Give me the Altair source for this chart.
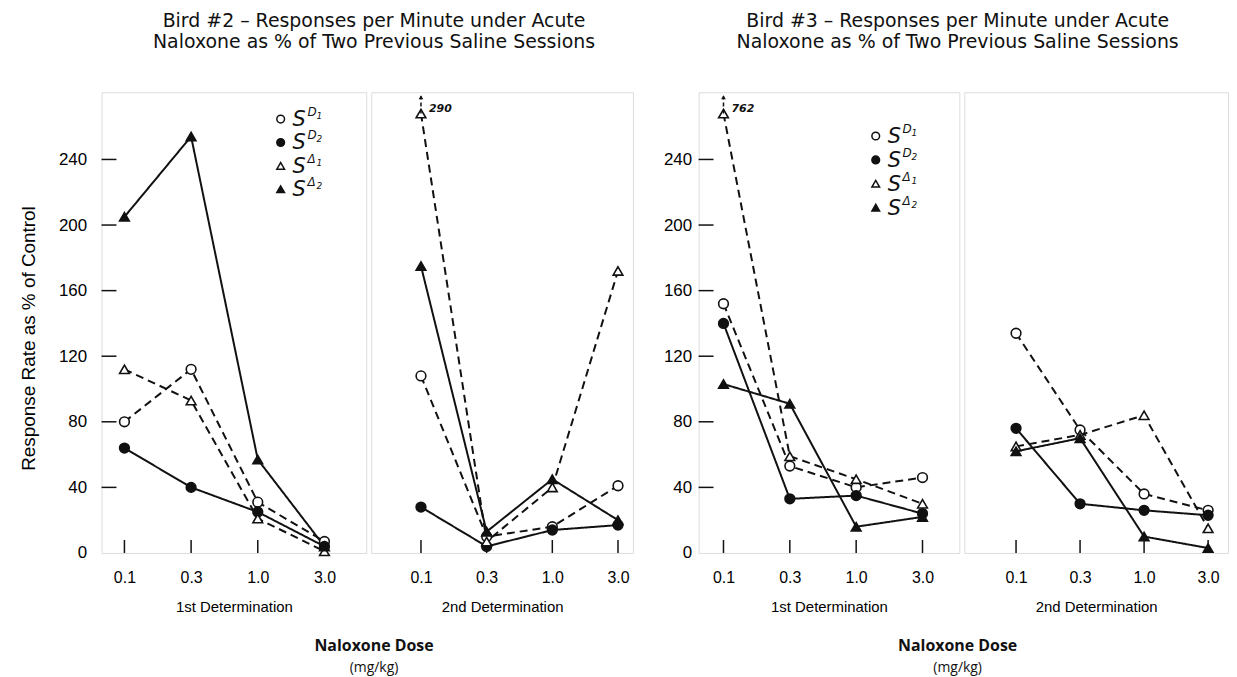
import altair as alt
import pandas as pd

DOSES = ["0.1", "0.3", "1.0", "3.0"]
SERIES = ["SD1", "SD2", "SΔ1", "SΔ2"]
LEG_SUP = ["D", "D", "Δ", "Δ"]
LEG_SUB = ["1", "2", "1", "2"]
Y_TICKS = [0, 40, 80, 120, 160, 200, 240]

# Bird 2 - 1st determination
b2_d1_sd1 = [80, 112, 31, 7]
b2_d1_sd2 = [64, 40, 25, 4]
b2_d1_sl1 = [112, 93, 21, 1]
b2_d1_sl2 = [205, 254, 57, 4]
# Bird 2 - 2nd determination (first SΔ1 point is off scale: 290)
b2_d2_sd1 = [108, 10, 16, 41]
b2_d2_sd2 = [28, 4, 14, 17]
b2_d2_sl1 = [268, 7, 40, 172]
b2_d2_sl2 = [175, 13, 45, 20]
# Bird 3 - 1st determination (first SΔ1 point is off scale: 762)
b3_d1_sd1 = [152, 53, 40, 46]
b3_d1_sd2 = [140, 33, 35, 24]
b3_d1_sl1 = [268, 59, 45, 30]
b3_d1_sl2 = [103, 91, 16, 22]
# Bird 3 - 2nd determination
b3_d2_sd1 = [134, 75, 36, 26]
b3_d2_sd2 = [76, 30, 26, 23]
b3_d2_sl1 = [65, 72, 84, 15]
b3_d2_sl2 = [62, 70, 10, 3]

OFF_LABELS = ["290", "762"]

YMAX = 281
H = 463
INK = "#111111"
LABEL_FONT = "Open Sans"
TITLE_FONT = "DejaVu Sans"

dash_scale = alt.Scale(domain=SERIES, range=[[8, 5], [1, 0], [8, 5], [1, 0]])
shape_scale = alt.Scale(domain=SERIES, range=["circle", "circle", "triangle-up", "triangle-up"])
fill_scale = alt.Scale(domain=SERIES, range=["white", INK, "white", INK])
size_scale = alt.Scale(domain=SERIES, range=[95, 95, 85, 85])


def panel(values, det_title, width, xrange, yaxis, legend=None, offscale=None):
    rows = []
    for s, vals in zip(SERIES, values):
        for d, v in zip(DOSES, vals):
            rows.append({"series": s, "dose": d, "value": v})
    df = pd.DataFrame(rows)

    x = alt.X("dose:O", sort=DOSES,
              scale=alt.Scale(type="point", domain=DOSES, range=xrange, padding=0),
              axis=alt.Axis(title=det_title, labelAngle=0, labelFontSize=16,
                            labelPadding=17, titleFontSize=15, titleFontWeight=300,
                            titlePadding=14, titleX=width / 2, ticks=False, domain=False,
                            grid=False))
    y = alt.Y("value:Q", scale=alt.Scale(domain=[0, YMAX], nice=False, zero=True),
              axis=yaxis)

    base = alt.Chart(df)
    lines = base.mark_line(strokeWidth=2, color=INK).encode(
        x=x, y=y,
        strokeDash=alt.StrokeDash("series:N", scale=dash_scale, legend=None),
        detail="series:N",
    )
    pts = base.mark_point(stroke=INK, strokeWidth=1.6, opacity=1, fillOpacity=1).encode(
        x=x, y=y,
        shape=alt.Shape("series:N", scale=shape_scale, legend=None),
        fill=alt.Fill("series:N", scale=fill_scale, legend=None),
        size=alt.Size("series:N", scale=size_scale, legend=None),
    )
    xt = alt.Chart(pd.DataFrame({"dose": DOSES})).mark_rule(color=INK, strokeWidth=1.5).encode(
        x=x, y=alt.value(H), y2=alt.value(H - 13))
    layers = [xt, lines, pts]
    if yaxis is not None:
        yt = alt.Chart(pd.DataFrame({"value": Y_TICKS[1:]})).mark_rule(color=INK, strokeWidth=1.5).encode(
            y=y, x=alt.value(0), x2=alt.value(15))
        layers.insert(0, yt)
    if offscale is not None:
        odf = pd.DataFrame({"dose": [DOSES[0]], "value": [values[2][0]], "label": [offscale]})
        ob = alt.Chart(odf)
        layers.append(ob.mark_rule(color=INK, strokeWidth=1.5, strokeDash=[4, 3]).encode(
            x=x, y=y, y2=alt.value(4)))
        layers.append(ob.mark_point(shape="triangle-up", filled=True, color=INK, size=22, opacity=1).encode(
            x=x, y=alt.value(5)))
        layers.append(ob.mark_text(align="left", baseline="middle", dx=8, dy=-5, fontSize=11,
                                   fontStyle="italic", fontWeight="bold", font="DejaVu Sans",
                                   color=INK).encode(x=x, y=y, text="label:N"))
    if legend is not None:
        lx, ly, sp = legend
        for i, s in enumerate(SERIES):
            ldf = pd.DataFrame({"series": [s], "sup": [LEG_SUP[i]], "sub": [LEG_SUB[i]], "S": ["S"]})
            lb = alt.Chart(ldf)
            yy = ly + i * sp
            layers.append(lb.mark_point(stroke=INK, strokeWidth=1.5, opacity=1, fillOpacity=1).encode(
                x=alt.value(lx), y=alt.value(yy),
                shape=alt.Shape("series:N", scale=shape_scale, legend=None),
                fill=alt.Fill("series:N", scale=fill_scale, legend=None),
                size=alt.value(60)))
            layers.append(lb.mark_text(align="left", baseline="middle", fontSize=21, fontStyle="italic",
                                       font="DejaVu Sans", color=INK, fontWeight="normal").encode(
                x=alt.value(lx + 12), y=alt.value(yy + 1), text="S:N"))
            layers.append(lb.mark_text(align="left", baseline="middle", fontSize=12, fontStyle="italic",
                                       font="DejaVu Sans", color=INK).encode(
                x=alt.value(lx + 27), y=alt.value(yy - 7), text="sup:N"))
            layers.append(lb.mark_text(align="left", baseline="middle", fontSize=9, fontStyle="italic",
                                       font="DejaVu Sans", color=INK).encode(
                x=alt.value(lx + 36), y=alt.value(yy - 3), text="sub:N"))
    return alt.layer(*layers).properties(width=width, height=H)


yaxis_b2 = alt.Axis(title="Response Rate as % of Control", values=Y_TICKS, labelFontSize=17,
                    labelPadding=15, titleFontSize=19, titleFontWeight="normal", titlePadding=20,
                    titleY=247, ticks=False, domain=False, grid=False)
yaxis_b3 = alt.Axis(title=None, values=Y_TICKS, labelFontSize=17, labelPadding=7,
                    ticks=False, domain=False, grid=False)

p1 = panel([b2_d1_sd1, b2_d1_sd2, b2_d1_sl1, b2_d1_sl2], "1st Determination", 266, [23, 224],
           yaxis_b2, legend=(180, 27, 23.5))
p2 = panel([b2_d2_sd1, b2_d2_sd2, b2_d2_sl1, b2_d2_sl2], "2nd Determination", 263, [50, 248],
           None, offscale=OFF_LABELS[0])
p3 = panel([b3_d1_sd1, b3_d1_sd2, b3_d1_sl1, b3_d1_sl2], "1st Determination", 262, [25, 225],
           yaxis_b3, legend=(178, 44, 24), offscale=OFF_LABELS[1])
p4 = panel([b3_d2_sd1, b3_d2_sd2, b3_d2_sl1, b3_d2_sl2], "2nd Determination", 265, [52, 245],
           None)


def block(a, b, lines, dx):
    inner = alt.hconcat(a, b, spacing=3).properties(
        title=alt.TitleParams(lines, anchor="middle", frame="bounds", dx=dx, fontSize=19,
                              font=TITLE_FONT, fontWeight="normal", color=INK, offset=40,
                              lineHeight=21))
    return alt.vconcat(inner).properties(
        title=alt.TitleParams("Naloxone Dose", subtitle="(mg/kg)", orient="bottom", anchor="middle",
                              frame="bounds", dx=dx, fontSize=16, fontWeight="bold", font=LABEL_FONT,
                              color=INK, subtitleFontSize=14, subtitleFont=LABEL_FONT,
                              subtitleColor=INK, subtitlePadding=7, offset=23))


b2 = block(p1, p2, ["Bird #2 – Responses per Minute under Acute",
                    "Naloxone as % of Two Previous Saline Sessions"], 48)
b3 = block(p3, p4, ["Bird #3 – Responses per Minute under Acute",
                    "Naloxone as % of Two Previous Saline Sessions"], 12)

chart = alt.hconcat(b2, b3, spacing=29).properties(
    padding={"left": 11, "top": 2, "right": 0, "bottom": 0}
).configure_view(stroke=INK, strokeWidth=1.5).configure_axis(
    labelFont=LABEL_FONT, titleFont=LABEL_FONT, labelColor=INK, titleColor=INK
).configure(background="white")

chart.save("out.html", embed_options={"renderer": "svg", "actions": False})
